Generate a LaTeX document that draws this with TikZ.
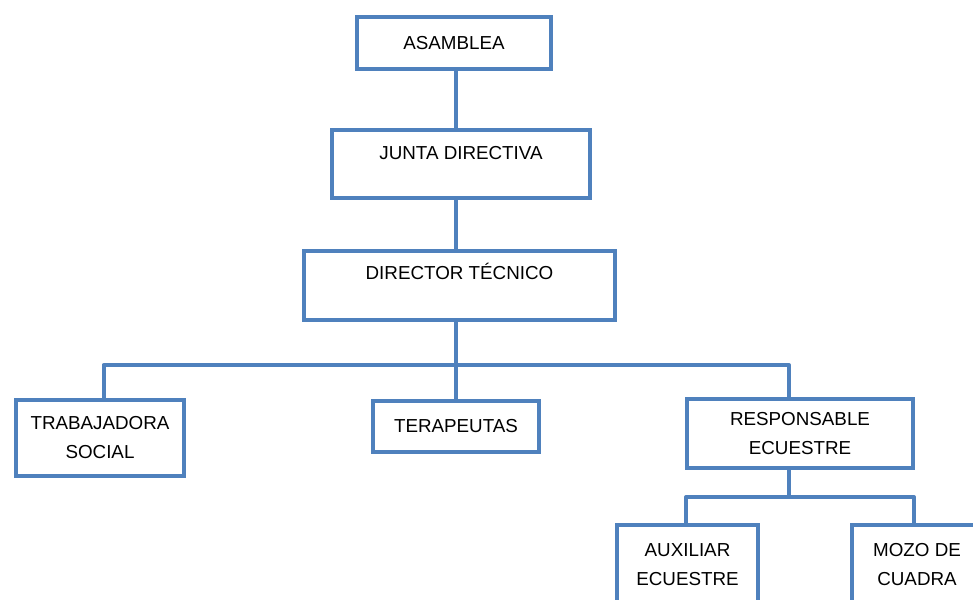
\documentclass[tikz,border=0pt]{standalone}
\usepackage{fontspec}
\setmainfont{Liberation Sans}
\definecolor{orgblue}{HTML}{4F81BD}
\begin{document}
\begin{tikzpicture}[x=1pt,y=-1pt,
  box/.style={draw=orgblue,line width=4pt,fill=white,inner sep=0pt,align=center,
    font=\fontsize{18.8}{29}\selectfont},
  link/.style={draw=orgblue,line width=4pt}]
\clip (0,0) rectangle (973,599);
\fill[white] (0,0) rectangle (973,599);
\coordinate (spine) at (456,0);
\coordinate (bus) at (0,365);
\coordinate (subbus) at (0,497);
\node[box,minimum width=194pt,minimum height=52pt] (asm) at (454,43) {ASAMBLEA};
\node[box,minimum width=258pt,minimum height=68pt,text height=13pt,text depth=22pt] (jd) at (461,164) {JUNTA DIRECTIVA};
\node[box,minimum width=311pt,minimum height=69pt,text height=13pt,text depth=25pt] (dt) at (459.5,285.5) {DIRECTOR TÉCNICO};
\node[box,minimum width=168pt,minimum height=76pt] (ts) at (100,438) {TRABAJADORA\\SOCIAL};
\node[box,minimum width=166pt,minimum height=51pt] (ter) at (456,426) {TERAPEUTAS};
\node[box,minimum width=226pt,minimum height=69pt] (re) at (800,433.5) {RESPONSABLE\\ECUESTRE};
\node[box,minimum width=141pt,minimum height=80pt] (aux) at (687.5,565) {AUXILIAR\\ECUESTRE};
\node[box,minimum width=130pt,minimum height=80pt] (mozo) at (917,565) {MOZO DE\\CUADRA};
\coordinate (tsx) at (103.6,0);
\coordinate (rex) at (789,0);
\coordinate (auxx) at (686,0);
\coordinate (mozx) at (914,0);
\draw[link] (asm.south -| spine) -- (jd.north -| spine);
\draw[link] (jd.south -| spine) -- (dt.north -| spine);
\draw[link] (dt.south -| spine) -- (ter.north -| spine);
\draw[link,line join=round] (ts.north -| tsx) -- (bus -| tsx) -- (bus -| rex) -- (re.north -| rex);
\draw[link] (re.south -| rex) -- (subbus -| rex);
\draw[link,line join=round] (aux.north -| auxx) -- (subbus -| auxx) -- (subbus -| mozx) -- (mozo.north -| mozx);
\end{tikzpicture}
\end{document}
